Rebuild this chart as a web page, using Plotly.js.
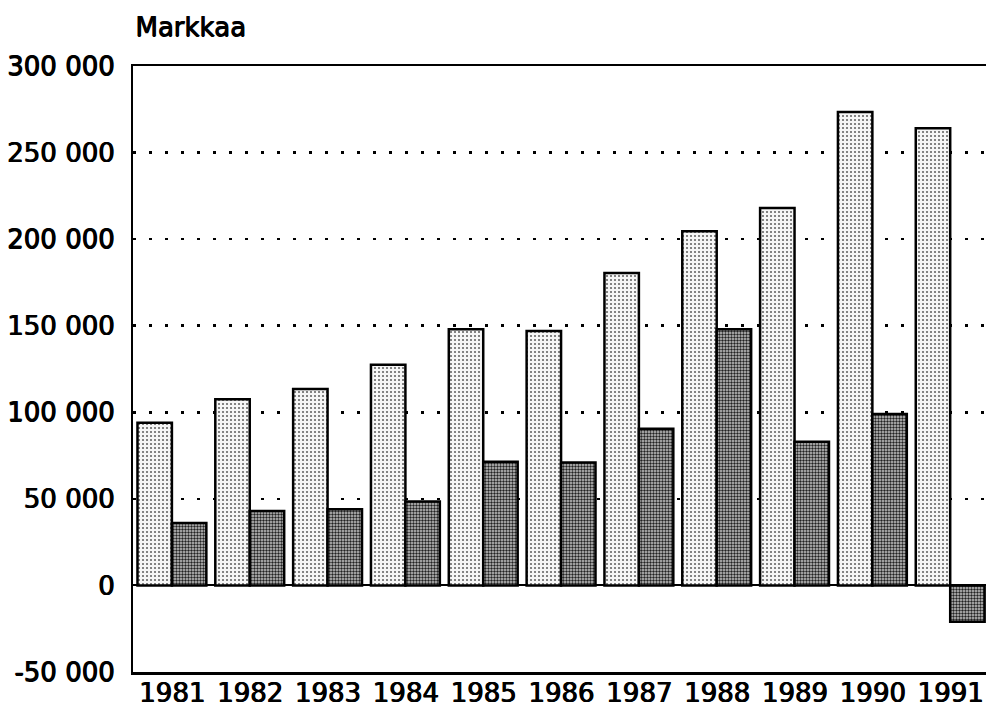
<!DOCTYPE html>
<html>
<head>
<meta charset="utf-8">
<script src="https://cdn.plot.ly/plotly-3.0.1.min.js"></script>
<style>html,body{margin:0;padding:0;background:#fff;}#chart{width:987px;height:712px;}</style>
</head>
<body>
<div id="chart"></div>
<script>
const years = ['1981','1982','1983','1984','1985','1986','1987','1988','1989','1990','1991'];
const lightValues = [94000, 107500, 113500, 127500, 148000, 147000, 180500, 204500, 218000, 273500, 264000];
const darkValues = [36000, 43000, 44000, 48500, 71500, 71000, 90500, 148000, 83000, 99000, -21000];
const tickVals = [-50000, 0, 50000, 100000, 150000, 200000, 250000, 300000];
const tickText = ['-50 000', '0', '50 000', '100 000', '150 000', '200 000', '250 000', '300 000'];
const yTitle = 'Markkaa';

const font = {family: 'DejaVu Sans, sans-serif', size: 26, color: '#000', shadow: '1px 0px 0px #000, 0.5px 0.5px 0px #000'};

const traces = [
  {
    type: 'bar', x: years, y: lightValues, name: 'a',
    marker: {
      color: '#eeeeee',
      line: {color: '#000', width: 2.5},
      pattern: {shape: '.', fgcolor: '#666', bgcolor: '#f6f6f6', size: 4, solidity: 0.22, fillmode: 'replace'}
    },
    hoverinfo: 'skip'
  },
  {
    type: 'bar', x: years, y: darkValues, name: 'b',
    marker: {
      color: '#888',
      line: {color: '#000', width: 2.5},
      pattern: {shape: '.', fgcolor: '#222', bgcolor: '#c8c8c8', size: 3, solidity: 0.5, fillmode: 'replace'}
    },
    hoverinfo: 'skip'
  }
];

const layout = {
  width: 987, height: 712,
  margin: {l: 133, r: 1, t: 66, b: 40},
  paper_bgcolor: '#fff', plot_bgcolor: '#fff',
  showlegend: false,
  barmode: 'group', bargap: 0.115, bargroupgap: 0,
  font: font,
  xaxis: {
    type: 'category', range: [-0.5, 10.46],
    showline: true, linecolor: '#000', linewidth: 2.5, mirror: true,
    showgrid: false, ticks: '', tickfont: font, fixedrange: true,
    ticklabelstandoff: -4
  },
  yaxis: {
    range: [-50000, 300000],
    tickmode: 'array', tickvals: tickVals, ticktext: tickText,
    showline: true, linecolor: '#000', linewidth: 2.5, mirror: false,
    showgrid: true, gridcolor: '#000', gridwidth: 2.5, griddash: '2.5px,13.5px',
    zeroline: true, zerolinecolor: '#000', zerolinewidth: 2,
    ticks: '', ticklabelstandoff: 11, tickfont: font, fixedrange: true
  },
  annotations: [{
    text: yTitle, xref: 'paper', yref: 'paper', x: 0, y: 1, xanchor: 'left', yanchor: 'bottom',
    yshift: 22, showarrow: false, font: font
  }]
};

Plotly.newPlot('chart', traces, layout, {displayModeBar: false, staticPlot: true});
</script>
</body>
</html>
